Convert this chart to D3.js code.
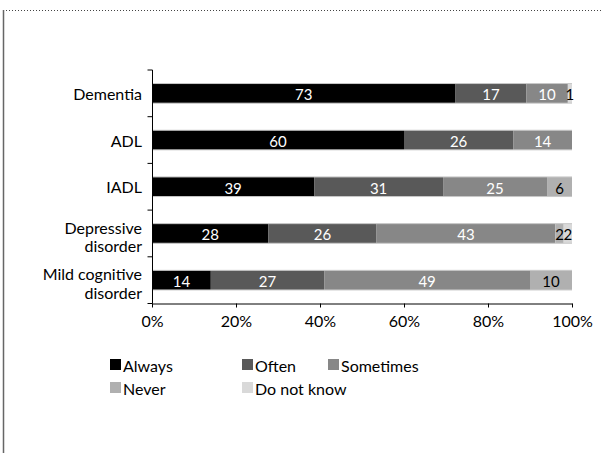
<!DOCTYPE html>
<html>
<head>
<meta charset="utf-8">
<script src="https://cdn.jsdelivr.net/npm/d3@7"></script>
<style>
  body { margin: 0; background: #fff; }
  text { font-family: Lato, "Open Sans", sans-serif; }
</style>
</head>
<body>
<div id="chart"></div>
<script>
var width = 603;
var height = 453;

// data
var categories = ['Dementia', 'ADL', 'IADL', 'Depressive disorder', 'Mild cognitive disorder'];
var catLines = [['Dementia'], ['ADL'], ['IADL'], ['Depressive', 'disorder'], ['Mild cognitive', 'disorder']];
var series = ['Always', 'Often', 'Sometimes', 'Never', 'Do not know'];
var always = [73, 60, 39, 28, 14];
var often = [17, 26, 31, 26, 27];
var sometimes = [10, 14, 25, 43, 49];
var never = [0, 0, 6, 2, 10];
var dontKnow = [1, 0, 0, 2, 0];
var tickValues = [0, 0.2, 0.4, 0.6, 0.8, 1];
var colors = ['#000000', '#595959', '#878787', '#b0b0b0', '#d9d9d9'];
var labelColors = ['#fff', '#fff', '#fff', '#000', '#000'];

var rows = categories.map(function(c, i) {
  return { cat: c, Always: always[i], Often: often[i], Sometimes: sometimes[i], Never: never[i], 'Do not know': dontKnow[i] };
});

var svg = d3.select('#chart').append('svg')
    .attr('width', width)
    .attr('height', height);

// frame bits from the page
svg.append('line')
    .attr('x1', 3).attr('x2', width).attr('y1', 10.5).attr('y2', 10.5)
    .attr('stroke', '#444').attr('stroke-width', 1).attr('stroke-dasharray', '1,2');
svg.append('line')
    .attr('x1', 3.5).attr('x2', 3.5).attr('y1', 10).attr('y2', height)
    .attr('stroke', '#666').attr('stroke-width', 1.5);

var x = d3.scaleLinear().domain([0, 1]).range([152, 572]);
var y = d3.scaleBand().domain(categories).range([70, 303.5]).paddingInner(0.58).paddingOuter(0.29);

var stack = d3.stack().keys(series).offset(d3.stackOffsetExpand);
var layers = stack(rows);

var g = svg.append('g');
layers.forEach(function(layer, si) {
  g.selectAll('.bar' + si)
    .data(layer)
    .enter()
    .append('rect')
    .attr('x', function(d) { return x(d[0]); })
    .attr('y', function(d) { return y(d.data.cat); })
    .attr('width', function(d) { return x(d[1]) - x(d[0]); })
    .attr('height', y.bandwidth())
    .attr('fill', colors[si]);
});
// thin light edge on top and bottom of each bar
categories.forEach(function(c) {
  [y(c), y(c) + y.bandwidth()].forEach(function(yy) {
    svg.append('line')
      .attr('x1', x(0)).attr('x2', x(1)).attr('y1', yy).attr('y2', yy)
      .attr('stroke', '#c8c8c8').attr('stroke-width', 1);
  });
});

layers.forEach(function(layer, si) {
  g.selectAll('.lab' + si)
    .data(layer.filter(function(d) { return d[1] - d[0] > 0; }))
    .enter()
    .append('text')
    .attr('x', function(d) { return (x(d[0]) + x(d[1])) / 2; })
    .attr('y', function(d) { return y(d.data.cat) + y.bandwidth() / 2 + 1; })
    .attr('text-anchor', 'middle')
    .attr('dominant-baseline', 'central')
    .attr('font-size', 15)
    .attr('fill', labelColors[si])
    .text(function(d) { return d.data[series[si]]; });
});

// axes
var xAxis = svg.append('g')
    .attr('transform', 'translate(0,303.5)')
    .call(d3.axisBottom(x).tickValues(tickValues).tickSize(4).tickSizeOuter(0)
      .tickFormat(d3.format('.0%')));
xAxis.select('.domain').attr('stroke', '#000');
xAxis.selectAll('.tick text').attr('font-size', 16).attr('dy', '1.05em').attr('fill', '#000')
    .style('font-family', 'Lato, sans-serif');

var yAxis = svg.append('g')
    .attr('transform', 'translate(152.5,0)');
yAxis.append('line')
    .attr('x1', 0).attr('x2', 0).attr('y1', 70).attr('y2', 303.5)
    .attr('stroke', '#000');
d3.range(categories.length + 1).forEach(function(i) {
  var ty = 70 + i * (233.5 / categories.length);
  yAxis.append('line')
    .attr('x1', -5).attr('x2', 0)
    .attr('y1', ty).attr('y2', ty)
    .attr('stroke', '#000');
});

categories.forEach(function(c, i) {
  var lines = catLines[i];
  var cy = y(c) + y.bandwidth() / 2;
  var t = svg.append('text')
      .attr('text-anchor', 'end')
      .attr('font-size', 16)
      .attr('fill', '#000');
  lines.forEach(function(l, j) {
    t.append('tspan')
      .attr('x', 142)
      .attr('y', cy + (j - (lines.length - 1) / 2) * 18.5 + (lines.length > 1 ? 3 : 0))
      .attr('dominant-baseline', 'central')
      .text(l);
  });
});

// legend
var legendPos = [[110, 365], [242, 365], [328, 365], [110, 388], [242, 388]];
series.forEach(function(s, i) {
  var p = legendPos[i];
  svg.append('rect')
    .attr('x', p[0]).attr('y', p[1] - 6)
    .attr('width', 11).attr('height', 11)
    .attr('fill', colors[i]);
  svg.append('text')
    .attr('x', p[0] + 13).attr('y', p[1])
    .attr('dominant-baseline', 'central')
    .attr('font-size', 16)
    .text(s);
});
</script>
</body>
</html>
